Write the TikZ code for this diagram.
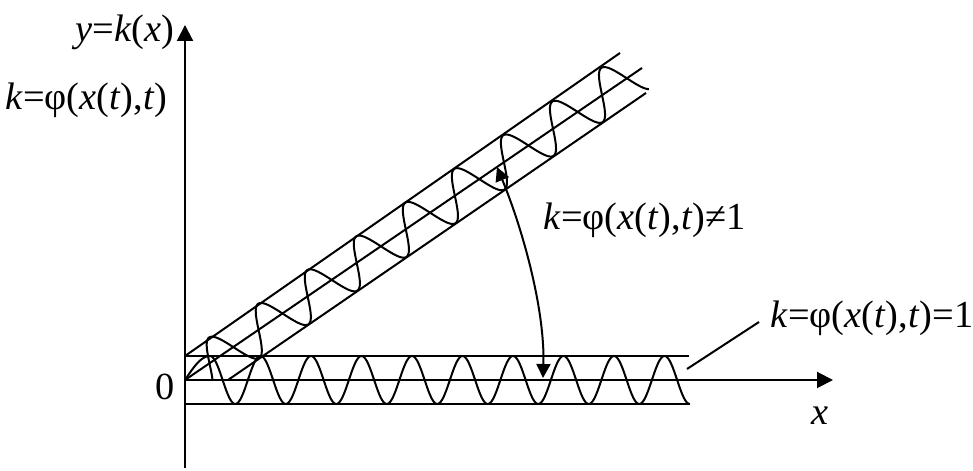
\documentclass[tikz,border=0pt]{standalone}
\usepackage{fontspec}
\setmainfont{Liberation Serif}
\usetikzlibrary{arrows.meta}

\newcommand{\kphi}{\textit{k}=φ(\textit{x}(\textit{t}),\textit{t})}

\begin{document}
\begin{tikzpicture}[
    x=0.3pt, y=0.3pt,
    font=\fontsize{11.5}{13}\selectfont,
    % line looks
    line/.style={draw, line width=0.6pt},
    axis/.style={line, -{Triangle[length=4.8pt,width=4.8pt]}},
    wave/.style={line, line join=round},
    swing/.style={line, {Triangle[length=4.2pt,width=4.2pt]}-{Triangle[length=4.2pt,width=4.2pt]}},
    lbl/.style={inner sep=0pt},
]
\useasboundingbox (-185,-91) rectangle (788,380);

% -------------------------
% Axes
% -------------------------
\coordinate (O)    at (0,0);
\coordinate (ybot) at (0,-88);
\coordinate (ytop) at (0,355);
\coordinate (xend) at (648,0);

\draw[axis] (ybot) -- (ytop);
\draw[axis] (O) -- (xend);

\node[lbl, anchor=base east] (ylab) at (-10,338) {\textit{y}=\textit{k}(\textit{x})};
\node[lbl, anchor=base east] (klab) at (-17,270) {\kphi};
\node[lbl, anchor=base] (zero) at (-20,-20) {0};
\node[lbl, anchor=base] (xlab) at (635,-45) {\textit{x}};

% -------------------------
% Horizontal band (k = 1)
% -------------------------
\coordinate (hTopL) at (0,24);
\coordinate (hTopR) at (504,24);
\coordinate (hBotL) at (0,-24);
\coordinate (hBotR) at (504,-24);

\draw[line] (hTopL) -- (hTopR);
\draw[line] (hBotL) -- (hBotR);
\draw[wave] plot[domain=0:25, samples=20] (\x,{24*sin(3.6*\x)})
         -- plot[domain=25:505, samples=400] (\x,{24*cos(7.1287*(\x-25))});

% -------------------------
% Slanted band (k != 1)
% -------------------------
\coordinate (sTopL) at (0,24);
\coordinate (sTopR) at (435,327);
\coordinate (sMidR) at (457,312);
\coordinate (sBotL) at (43,0);
\coordinate (sBotR) at (461,287);

\draw[line] (sTopL) -- (sTopR);
\draw[line] (O) -- (sMidR);
\draw[line] (sBotL) -- (sBotR);

\begin{scope}[rotate=34.5]
  \draw[wave] plot[domain=22.8:547, samples=400]
    (\x,{-1.3+22.7*cos(6.0504*(\x-44))});
\end{scope}

% -------------------------
% Transition arrow and labels
% -------------------------
\coordinate (swA) at (312,213);
\coordinate (swB) at (358,2);
\draw[swing] (swA) .. controls (338,150) and (360,70) .. (swB);

\node[lbl, anchor=base west] (neq) at (358,150) {\kphi≠1};

\coordinate (leadA) at (502,11);
\coordinate (leadB) at (574,58);
\draw[line] (leadA) -- (leadB);

\node[lbl, anchor=base west] (eq) at (585,52) {\kphi=1};

\end{tikzpicture}
\end{document}
